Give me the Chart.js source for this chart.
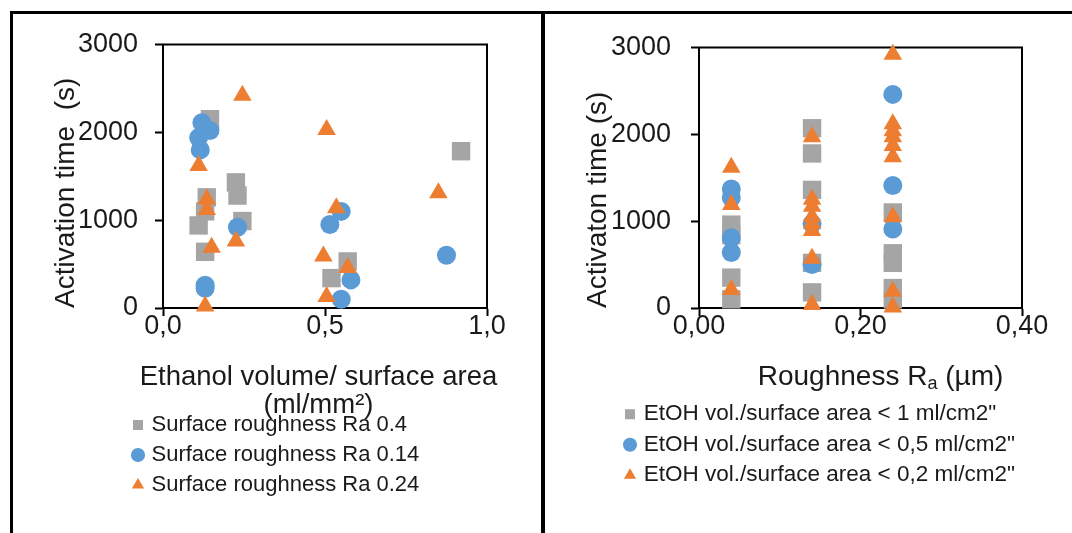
<!DOCTYPE html>
<html>
<head>
<meta charset="utf-8">
<title>Activation time</title>
<script src="https://cdn.jsdelivr.net/npm/chart.js@4/dist/chart.umd.min.js"></script>
<style>
  html, body { margin: 0; padding: 0; background: #fff; }
  #page { position: relative; width: 1072px; height: 533px; background: #fff; overflow: hidden; }
  .rule { position: absolute; background: #000; }
  .panel { position: absolute; top: 14px; width: 527px; height: 519px; }
</style>
</head>
<body>
<div id="page">
  <div class="rule" style="left:10px;top:11px;width:1062px;height:3px"></div>
  <div class="rule" style="left:10px;top:11px;width:3px;height:522px"></div>
  <div class="rule" style="left:541px;top:11px;width:4px;height:522px"></div>
  <div class="panel" style="left:14px"><canvas id="byVolume" width="527" height="519"></canvas></div>
  <div class="panel" style="left:545px"><canvas id="byRoughness" width="527" height="519"></canvas></div>
</div>
<script>
// ---- Left panel: activation time vs ethanol volume / surface area ----
const volSeriesNames = ['Surface roughness Ra 0.4', 'Surface roughness Ra 0.14', 'Surface roughness Ra 0.24'];
const volGrayX   = [0.145, 0.225, 0.23, 0.245, 0.135, 0.13, 0.11, 0.13, 0.92, 0.57, 0.52];
const volGrayY   = [2150, 1430, 1280, 990, 1260, 1100, 940, 640, 1785, 530, 340];
const volBlueX   = [0.12, 0.145, 0.11, 0.115, 0.23, 0.13, 0.13, 0.515, 0.55, 0.58, 0.55, 0.875];
const volBlueY   = [2110, 2020, 1940, 1800, 920, 260, 225, 950, 1100, 320, 100, 600];
const volOrangeX = [0.245, 0.505, 0.11, 0.135, 0.135, 0.15, 0.225, 0.535, 0.495, 0.57, 0.505, 0.13, 0.85];
const volOrangeY = [2420, 2030, 1620, 1240, 1120, 690, 760, 1140, 590, 460, 130, 20, 1310];
const volXTicks  = [0, 0.5, 1];
const volXTitle  = ['Ethanol volume/ surface area', '(ml/mm²)'];
const volYTitle  = 'Activation time  (s)';

// ---- Right panel: activation time vs roughness Ra ----
const raSeriesNames = ['EtOH vol./surface area < 1 ml/cm2"', 'EtOH vol./surface area < 0,5 ml/cm2"', 'EtOH vol./surface area < 0,2 ml/cm2"'];
const raGrayX   = [0.04, 0.04, 0.04, 0.04, 0.14, 0.14, 0.14, 0.14, 0.14, 0.24, 0.24, 0.24, 0.24, 0.24];
const raGrayY   = [960, 840, 350, 100, 2070, 1780, 1360, 520, 180, 1100, 630, 520, 230, 100];
const raBlueX   = [0.04, 0.04, 0.04, 0.04, 0.14, 0.14, 0.24, 0.24, 0.24];
const raBlueY   = [1370, 1270, 810, 640, 970, 500, 2460, 1410, 910];
const raOrangeX = [0.04, 0.04, 0.04, 0.14, 0.14, 0.14, 0.14, 0.14, 0.14, 0.14, 0.14, 0.24, 0.24, 0.24, 0.24, 0.24, 0.24, 0.24, 0.24, 0.24];
const raOrangeY = [1620, 1190, 210, 1970, 1250, 1170, 1050, 970, 890, 570, 40, 2920, 2120, 2040, 1970, 1870, 1740, 1050, 190, 10];
const raXTicks  = [0, 0.2, 0.4];
const raXTitle  = ['Roughness R', 'a', ' (µm)'];   // middle piece is a subscript
const raYTitle  = 'Activaton time (s)';

const yTicks = [0, 1000, 2000, 3000];

const FONT = "'Liberation Sans', Arial, sans-serif";
const TEXT = '#1a1a1a';
const GRAY = '#a5a5a5', BLUE = '#5b9bd5', ORANGE = '#ed7d31';
const TICK_SIZE = 27;

const pts = (xs, ys) => xs.map((x, i) => ({ x, y: ys[i] }));
const comma = (v, d) => Number(v).toFixed(d).replace('.', ',');

function seriesSet(names, gx, gy, bx, by, ox, oy) {
  const common = { borderWidth: 0, clip: false, showLine: false };
  return [
    { ...common, label: names[0], data: pts(gx, gy), pointStyle: 'rect', pointRadius: 13, pointHoverRadius: 13, backgroundColor: GRAY, borderColor: GRAY, order: 3 },
    { ...common, label: names[1], data: pts(bx, by), pointStyle: 'circle', pointRadius: 9.5, pointHoverRadius: 9.5, backgroundColor: BLUE, borderColor: BLUE, order: 2 },
    { ...common, label: names[2], data: pts(ox, oy), pointStyle: 'triangle', pointRadius: 10.7, pointHoverRadius: 10.7, backgroundColor: ORANGE, borderColor: ORANGE, order: 1 }
  ];
}

// closes the plot box on the top and right sides
const plotFrame = {
  id: 'plotFrame',
  beforeDatasetsDraw(chart) {
    const { ctx, chartArea: a } = chart;
    ctx.save();
    ctx.strokeStyle = '#000';
    ctx.lineWidth = 2;
    ctx.beginPath();
    ctx.moveTo(a.left - 1, a.top);
    ctx.lineTo(a.right, a.top);
    ctx.lineTo(a.right, a.bottom + 1);
    ctx.stroke();
    ctx.restore();
  }
};

// lets the legend column start at its own left edge, independent of the y-axis box
const legendIndent = {
  id: 'legendIndent',
  afterLayout(chart, args, opts) {
    const lg = chart.legend;
    if (!lg || opts.left == null) return;
    const w = lg.right - lg.left;
    lg.left = opts.left;
    lg.right = opts.left + w;
  }
};

// x-axis caption under the tick labels: may run wider than the plot, and supports a subscript piece
const axisCaption = {
  id: 'axisCaption',
  afterDraw(chart, args, opts) {
    if (!opts.lines) return;
    const { ctx, chartArea: a } = chart;
    const big = `${opts.size}px ${FONT}`, small = `${Math.round(opts.size * 0.66)}px ${FONT}`;
    ctx.save();
    ctx.textBaseline = 'middle';
    ctx.textAlign = 'left';
    ctx.fillStyle = TEXT;
    opts.lines.forEach((line, li) => {
      const parts = line.map(seg => ({ t: seg.t, font: seg.sub ? small : big, dy: seg.sub ? 7 : 0 }));
      let total = 0;
      parts.forEach(p => { ctx.font = p.font; p.w = ctx.measureText(p.t).width; total += p.w; });
      let x = (a.left + a.right) / 2 + opts.shift - total / 2;
      const y = a.bottom + opts.dy + li * opts.lineGap;
      parts.forEach(p => { ctx.font = p.font; ctx.fillText(p.t, x, y + p.dy); x += p.w; });
    });
    ctx.restore();
  }
};

function axisLines() {
  return {
    grid: { display: true, drawOnChartArea: false, drawTicks: true, tickLength: 8, tickColor: '#000', tickWidth: 2 },
    border: { display: true, color: '#000', width: 2 }
  };
}

function buildChart(canvasId, cfg) {
  return new Chart(document.getElementById(canvasId), {
    type: 'scatter',
    data: { datasets: cfg.datasets },
    plugins: [plotFrame, axisCaption, legendIndent],
    options: {
      responsive: false,
      animation: false,
      events: [],
      layout: { padding: cfg.padding },
      scales: {
        x: {
          type: 'linear', min: cfg.xTicks[0], max: cfg.xTicks[cfg.xTicks.length - 1],
          afterBuildTicks: s => { s.ticks = cfg.xTicks.map(v => ({ value: v })); },
          ticks: { color: TEXT, font: { family: FONT, size: TICK_SIZE, lineHeight: 1 }, padding: 11 - TICK_SIZE / 2,
                   maxRotation: 0, autoSkip: false, callback: v => comma(v, cfg.xDigits) },
          ...axisLines(),
          title: { display: false },
          afterFit: s => { s.height = cfg.xHeight; }
        },
        y: {
          type: 'linear', min: 0, max: 3000,
          afterBuildTicks: s => { s.ticks = yTicks.map(v => ({ value: v })); },
          ticks: { color: TEXT, font: { family: FONT, size: TICK_SIZE, lineHeight: 1 }, padding: cfg.yTickPad, autoSkip: false,
                   callback: v => String(v) },
          ...axisLines(),
          title: { display: true, text: cfg.yTitle, align: 'start', color: TEXT, font: { family: FONT, size: 28, lineHeight: 1.2 }, padding: { top: cfg.yTitlePad, bottom: 0 } },
          afterFit: s => { s.width = cfg.yWidth; }
        }
      },
      plugins: {
        tooltip: { enabled: false },
        legend: {
          display: true, position: 'bottom', align: 'start', fullSize: true,
          labels: { usePointStyle: true, boxWidth: 5, boxHeight: 10, padding: 8, color: TEXT,
                    font: { family: FONT, size: cfg.legendSize },
                    sort: (a, b) => a.datasetIndex - b.datasetIndex }
        },
        legendIndent: { left: cfg.legendLeft },
        axisCaption: cfg.caption
      }
    }
  });
}

buildChart('byVolume', {
  datasets: seriesSet(volSeriesNames, volGrayX, volGrayY, volBlueX, volBlueY, volOrangeX, volOrangeY),
  padding: { left: 0, right: 54, top: 24, bottom: 27 },
  xTicks: volXTicks, xDigits: 1, xHeight: 98,
  yTitle: volYTitle, yTitlePad: 35.2, yTickPad: 17, yWidth: 149,
  legendLeft: 113.5, legendSize: 22,
  caption: { lines: volXTitle.map(t => [{ t }]), size: 27.5, shift: -6.5, dy: 69, lineGap: 28 }
});

buildChart('byRoughness', {
  datasets: seriesSet(raSeriesNames, raGrayX, raGrayY, raBlueX, raBlueY, raOrangeX, raOrangeY),
  padding: { left: 0, right: 50, top: 25, bottom: 36.5 },
  xTicks: raXTicks, xDigits: 2, xHeight: 87,
  yTitle: raYTitle, yTitlePad: 36.7, yTickPad: 20, yWidth: 154,
  legendLeft: 74.5, legendSize: 22.5,
  caption: { lines: [raXTitle.map((t, i) => ({ t, sub: i === 1 }))], size: 28, shift: 20, dy: 69, lineGap: 0 }
});
</script>
</body>
</html>
